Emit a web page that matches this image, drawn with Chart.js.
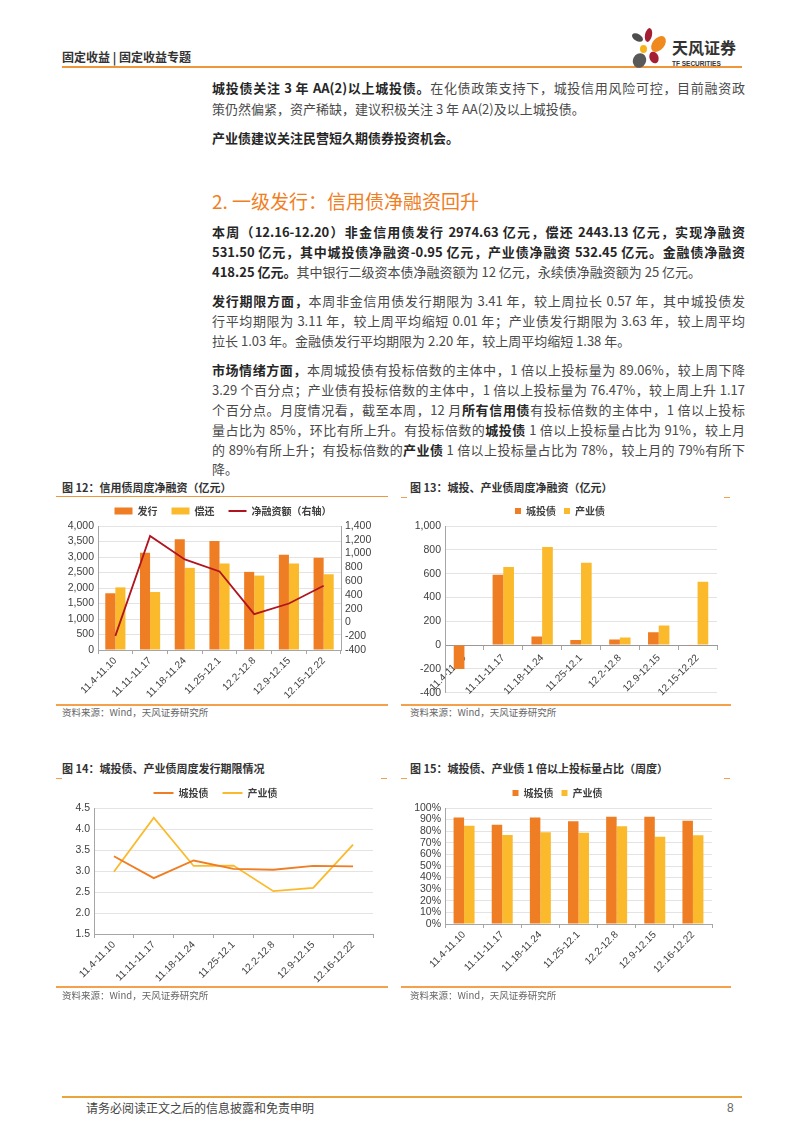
<!DOCTYPE html>
<html><head><meta charset="utf-8">
<script src="https://cdn.jsdelivr.net/npm/chart.js@4.4.1/dist/chart.umd.min.js"></script>
<style>
body{margin:0;background:#fff;}
#page{position:relative;width:802px;height:1133px;overflow:hidden;background:#fff;font-family:"Noto Sans CJK SC","Noto Sans",sans-serif;color:#4a4a4a;}
.ln{position:absolute;left:212px;width:533px;height:20px;line-height:20px;font-size:13px;white-space:nowrap;}
.j{text-align:justify;text-align-last:justify;}
.ln b{font-weight:700;color:#262626;}
.hd{position:absolute;left:212px;top:187px;font-size:19px;line-height:28px;color:#F07E22;white-space:nowrap;}
.hline{position:absolute;height:2px;background:#F0963A;}
.ctitle{position:absolute;font-size:11px;line-height:16px;font-weight:700;color:#333;white-space:nowrap;}
.src{position:absolute;font-size:9.5px;line-height:14px;color:#666;white-space:nowrap;}
.ol{position:absolute;height:2px;background:#F5A04A;}
.dash{position:absolute;height:1px;width:6px;background:#F0A050;}
canvas{position:absolute;}
</style></head>
<body><div id="page">
<div style="position:absolute;left:62px;top:48px;font-size:12px;line-height:18px;font-weight:700;color:#333;">固定收益 | 固定收益专题</div>
<div class="hline" style="left:62px;top:66px;width:680px;"></div>
<svg style="position:absolute;left:628px;top:24px" width="120" height="44">
 <ellipse cx="20.5" cy="11" rx="3.5" ry="7" fill="#A31F34" transform="rotate(12 20.5 11)"/>
 <ellipse cx="9.5" cy="13.5" rx="6" ry="3.6" fill="#4D4D4D" transform="rotate(30 9.5 13.5)"/>
 <ellipse cx="30.5" cy="20" rx="9" ry="6" fill="#F08A1E" transform="rotate(-50 30.5 20)"/>
 <ellipse cx="15.5" cy="25" rx="3.5" ry="4" fill="#F6B319"/>
 <ellipse cx="26" cy="33.5" rx="4.5" ry="6" fill="#A31F34" transform="rotate(-20 26 33.5)"/>
 <ellipse cx="11.5" cy="36.5" rx="6.5" ry="7.5" fill="#595959" transform="rotate(25 11.5 36.5)"/>
 <text x="44" y="30" font-family="Noto Sans CJK SC" font-size="16" font-weight="700" fill="#333">天风证券</text>
 <text x="44" y="42" font-family="Liberation Sans" font-size="6.5" font-weight="700" fill="#333">TF SECURITIES</text>
</svg>

<div class="ln j" style="top:78px;"><b>城投债关注 3 年 AA(2)以上城投债。</b>在化债政策支持下，城投信用风险可控，目前融资政</div>
<div class="ln" style="top:99px;">策仍然偏紧，资产稀缺，建议积极关注 3 年 AA(2)及以上城投债。</div>
<div class="ln" style="top:128px;"><b>产业债建议关注民营短久期债券投资机会。</b></div>

<div class="hd">2. 一级发行：信用债净融资回升</div>

<div class="ln j" style="top:222px;"><b>本周（12.16-12.20）非金信用债发行 2974.63 亿元，偿还 2443.13 亿元，实现净融资</b></div>
<div class="ln j" style="top:242px;"><b>531.50 亿元，其中城投债净融资-0.95 亿元，产业债净融资 532.45 亿元。金融债净融资</b></div>
<div class="ln" style="top:262px;"><b>418.25 亿元。</b>其中银行二级资本债净融资额为 12 亿元，永续债净融资额为 25 亿元。</div>

<div class="ln j" style="top:291px;"><b>发行期限方面，</b>本周非金信用债发行期限为 3.41 年，较上周拉长 0.57 年，其中城投债发</div>
<div class="ln j" style="top:311px;">行平均期限为 3.11 年，较上周平均缩短 0.01 年；产业债发行期限为 3.63 年，较上周平均</div>
<div class="ln" style="top:331px;">拉长 1.03 年。金融债发行平均期限为 2.20 年，较上周平均缩短 1.38 年。</div>

<div class="ln j" style="top:360px;"><b>市场情绪方面，</b>本周城投债有投标倍数的主体中，1 倍以上投标量为 89.06%，较上周下降</div>
<div class="ln j" style="top:380px;">3.29 个百分点；产业债有投标倍数的主体中，1 倍以上投标量为 76.47%，较上周上升 1.17</div>
<div class="ln j" style="top:400px;">个百分点。月度情况看，截至本周，12 月<b>所有信用债</b>有投标倍数的主体中，1 倍以上投标</div>
<div class="ln j" style="top:420px;">量占比为 85%，环比有所上升。有投标倍数的<b>城投债</b> 1 倍以上投标量占比为 91%，较上月</div>
<div class="ln j" style="top:440px;">的 89%有所上升；有投标倍数的<b>产业债</b> 1 倍以上投标量占比为 78%，较上月的 79%有所下</div>
<div class="ln" style="top:459px;">降。</div>

<div class="ctitle" style="left:62px;top:479px;">图 12：信用债周度净融资（亿元）</div>
<div class="hline" style="left:56px;top:496px;width:332px;height:1px;"></div>
<div class="ctitle" style="left:410px;top:479px;">图 13：城投、产业债周度净融资（亿元）</div>
<div class="dash" style="left:401px;top:497px;"></div><div class="dash" style="left:724px;top:497px;"></div>
<div class="ctitle" style="left:62px;top:760px;">图 14：城投债、产业债周度发行期限情况</div>
<div class="dash" style="left:56px;top:778px;"></div><div class="dash" style="left:381px;top:778px;"></div>
<div class="ctitle" style="left:410px;top:760px;">图 15：城投债、产业债 1 倍以上投标量占比（周度）</div>
<div class="dash" style="left:401px;top:778px;"></div><div class="dash" style="left:724px;top:778px;"></div>

<canvas id="c12" width="330" height="212" style="left:58px;top:492px;"></canvas>
<canvas id="c13" width="330" height="205" style="left:403px;top:498px;"></canvas>
<canvas id="c14" width="330" height="216" style="left:58px;top:774px;"></canvas>
<canvas id="c15" width="330" height="210" style="left:403px;top:780px;"></canvas>

<div class="ol" style="left:56px;top:704px;width:332px;"></div>
<div class="src" style="left:62px;top:705px;">资料来源：Wind，天风证券研究所</div>
<div class="ol" style="left:401px;top:704px;width:330px;"></div>
<div class="src" style="left:410px;top:705px;">资料来源：Wind，天风证券研究所</div>
<div class="ol" style="left:56px;top:986px;width:332px;"></div>
<div class="src" style="left:62px;top:988px;">资料来源：Wind，天风证券研究所</div>
<div class="ol" style="left:401px;top:986px;width:330px;"></div>
<div class="src" style="left:410px;top:988px;">资料来源：Wind，天风证券研究所</div>

<div class="hline" style="left:62px;top:1096px;width:680px;background:#E9A43C;"></div>
<div style="position:absolute;left:86px;top:1100px;font-size:12px;line-height:16px;color:#444;">请务必阅读正文之后的信息披露和免责申明</div>
<div style="position:absolute;left:727px;top:1100px;font-size:12px;line-height:16px;color:#666;font-family:'Liberation Sans';">8</div>
</div>
<script>
// ---- data ----
const weeksA = ['11.4-11.10','11.11-11.17','11.18-11.24','11.25-12.1','12.2-12.8','12.9-12.15','12.15-12.22'];
const weeksB = ['11.4-11.10','11.11-11.17','11.18-11.24','11.25-12.1','12.2-12.8','12.9-12.15','12.16-12.22'];
const issueAmt = [1830, 3135, 3570, 3515, 2520, 3070, 2975];
const repayAmt = [2020, 1870, 2650, 2790, 2400, 2790, 2443];
const netFinance = [-195, 1255, 915, 740, 120, 275, 532];
const ctNet = [-200, 590, 72, 43, 47, 107, -1];
const cyNet = [4, 655, 824, 692, 64, 164, 532];
const ctTerm = [3.35, 2.83, 3.25, 3.05, 3.03, 3.12, 3.11];
const cyTerm = [2.98, 4.27, 3.12, 3.13, 2.52, 2.60, 3.63];
const ctRatio = [91.8, 85.5, 91.8, 88.6, 92.4, 92.35, 89.06];
const cyRatio = [84.6, 76.8, 79.2, 78.6, 84.2, 75.3, 76.47];
const legendNames12 = ['发行', '偿还', '净融资额（右轴）'];
const legendNames = ['城投债', '产业债'];

const ORANGE = '#EE7D23', YELLOW = '#FBBA2B', RED = '#B0141E';
const GRID = '#E3E3E3', AXIS = '#A6A6A6', TICK = '#404040';
Chart.defaults.font.family = "'Liberation Sans', Arial, sans-serif";
Chart.defaults.color = TICK;
Chart.defaults.animation = false;

function legendCfg(w, h, pad) {
  return {
    display: true, position: 'top',
    labels: {
      usePointStyle: true, pointStyleWidth: w, boxHeight: h, padding: pad,
      font: { family: "'Noto Sans CJK SC'", size: 10, weight: 'bold' }, color: '#404040',
      generateLabels: (chart) => {
        const items = Chart.defaults.plugins.legend.labels.generateLabels(chart);
        items.sort((a, b) => a.datasetIndex - b.datasetIndex);
        items.forEach((it) => {
          const ds = chart.data.datasets[it.datasetIndex];
          if (ds.type === 'line' || chart.config.type === 'line') {
            it.pointStyle = 'line'; it.strokeStyle = ds.borderColor; it.lineWidth = 2;
          } else { it.pointStyle = 'rect'; it.lineWidth = 0; it.fillStyle = ds.backgroundColor; }
        });
        return items;
      }
    }
  };
}
const xTicks = { maxRotation: 45, minRotation: 45, autoSkip: false, font: { size: 10 }, padding: 1 };
const xGrid = { display: true, drawOnChartArea: false, offset: true, tickLength: 4, color: AXIS };
const yTickFont = { size: 10.5 };

// Chart 12
new Chart(document.getElementById('c12'), {
  type: 'bar',
  data: { labels: weeksA, datasets: [
    { label: legendNames12[0], data: issueAmt, backgroundColor: ORANGE, yAxisID: 'y', order: 2 },
    { label: legendNames12[1], data: repayAmt, backgroundColor: YELLOW, yAxisID: 'y', order: 2 },
    { type: 'line', label: legendNames12[2], data: netFinance, borderColor: RED, backgroundColor: RED, borderWidth: 1.8, pointRadius: 0, yAxisID: 'y1', order: 1 }
  ]},
  options: {
    responsive: false, devicePixelRatio: 1,
    datasets: { bar: { categoryPercentage: 0.58, barPercentage: 1.0 } },
    layout: { padding: { left: 0, right: 0, top: 0, bottom: 0 } },
    plugins: { legend: legendCfg(18, 7, 14), tooltip: { enabled: false } },
    scales: {
      x: { grid: xGrid, border: { color: AXIS }, ticks: xTicks, afterFit: s => { s.height = 54; } },
      y: { min: 0, max: 4000, ticks: { stepSize: 500, autoSkip: false, font: yTickFont, padding: 4 }, grid: { color: GRID, drawTicks: false }, border: { color: AXIS }, afterFit: s => { s.width = 40; } },
      y1: { position: 'right', min: -400, max: 1400, ticks: { stepSize: 200, autoSkip: false, font: yTickFont, padding: 4 }, grid: { display: false, drawTicks: false }, border: { color: AXIS }, afterFit: s => { s.width = 47; } }
    }
  }
});

// Chart 13
new Chart(document.getElementById('c13'), {
  type: 'bar',
  data: { labels: weeksA, datasets: [
    { label: legendNames[0], data: ctNet, backgroundColor: ORANGE },
    { label: legendNames[1], data: cyNet, backgroundColor: YELLOW }
  ]},
  options: {
    responsive: false, devicePixelRatio: 1,
    datasets: { bar: { categoryPercentage: 0.55, barPercentage: 1.0 } },
    layout: { padding: { left: 0, right: 16, top: 0, bottom: 0 } },
    plugins: { legend: legendCfg(6, 6, 8), tooltip: { enabled: false } },
    scales: {
      x: { position: { y: 0 }, z: 1, grid: xGrid, border: { color: '#999' }, ticks: Object.assign({}, xTicks, { padding: 3 }), afterFit: s => { s.height = 0; } },
      y: { min: -400, max: 1000, ticks: { stepSize: 200, autoSkip: false, font: yTickFont, padding: 4 }, grid: { color: GRID, drawTicks: false }, border: { color: AXIS }, afterFit: s => { s.width = 42; } }
    }
  }
});

// Chart 14
new Chart(document.getElementById('c14'), {
  type: 'line',
  data: { labels: weeksB, datasets: [
    { label: legendNames[0], data: ctTerm, borderColor: ORANGE, backgroundColor: ORANGE, borderWidth: 1.8, pointRadius: 0, tension: 0 },
    { label: legendNames[1], data: cyTerm, borderColor: YELLOW, backgroundColor: YELLOW, borderWidth: 1.8, pointRadius: 0, tension: 0 }
  ]},
  options: {
    responsive: false, devicePixelRatio: 1,
    layout: { padding: { left: 0, right: 15, top: 0, bottom: 0 } },
    plugins: { legend: legendCfg(20, 7, 14), tooltip: { enabled: false } },
    scales: {
      x: { offset: true, grid: xGrid, border: { color: AXIS }, ticks: xTicks, afterFit: s => { s.height = 56; } },
      y: { min: 1.5, max: 4.5, ticks: { stepSize: 0.5, autoSkip: false, font: yTickFont, padding: 4, callback: v => Number(v).toFixed(1) }, grid: { color: GRID, drawTicks: false }, border: { color: AXIS }, afterFit: s => { s.width = 36; } }
    }
  }
});

// Chart 15
new Chart(document.getElementById('c15'), {
  type: 'bar',
  data: { labels: weeksB, datasets: [
    { label: legendNames[0], data: ctRatio, backgroundColor: ORANGE },
    { label: legendNames[1], data: cyRatio, backgroundColor: YELLOW }
  ]},
  options: {
    responsive: false, devicePixelRatio: 1,
    datasets: { bar: { categoryPercentage: 0.55, barPercentage: 1.0 } },
    layout: { padding: { left: 0, right: 21, top: 0, bottom: 0 } },
    plugins: { legend: legendCfg(6, 6, 8), tooltip: { enabled: false } },
    scales: {
      x: { grid: xGrid, border: { color: AXIS }, ticks: xTicks, afterFit: s => { s.height = 66; } },
      y: { min: 0, max: 100, ticks: { stepSize: 10, autoSkip: false, font: yTickFont, padding: 4, callback: v => v + '%' }, grid: { color: GRID, drawTicks: false }, border: { color: AXIS }, afterFit: s => { s.width = 42; } }
    }
  }
});
</script>
</body></html>
